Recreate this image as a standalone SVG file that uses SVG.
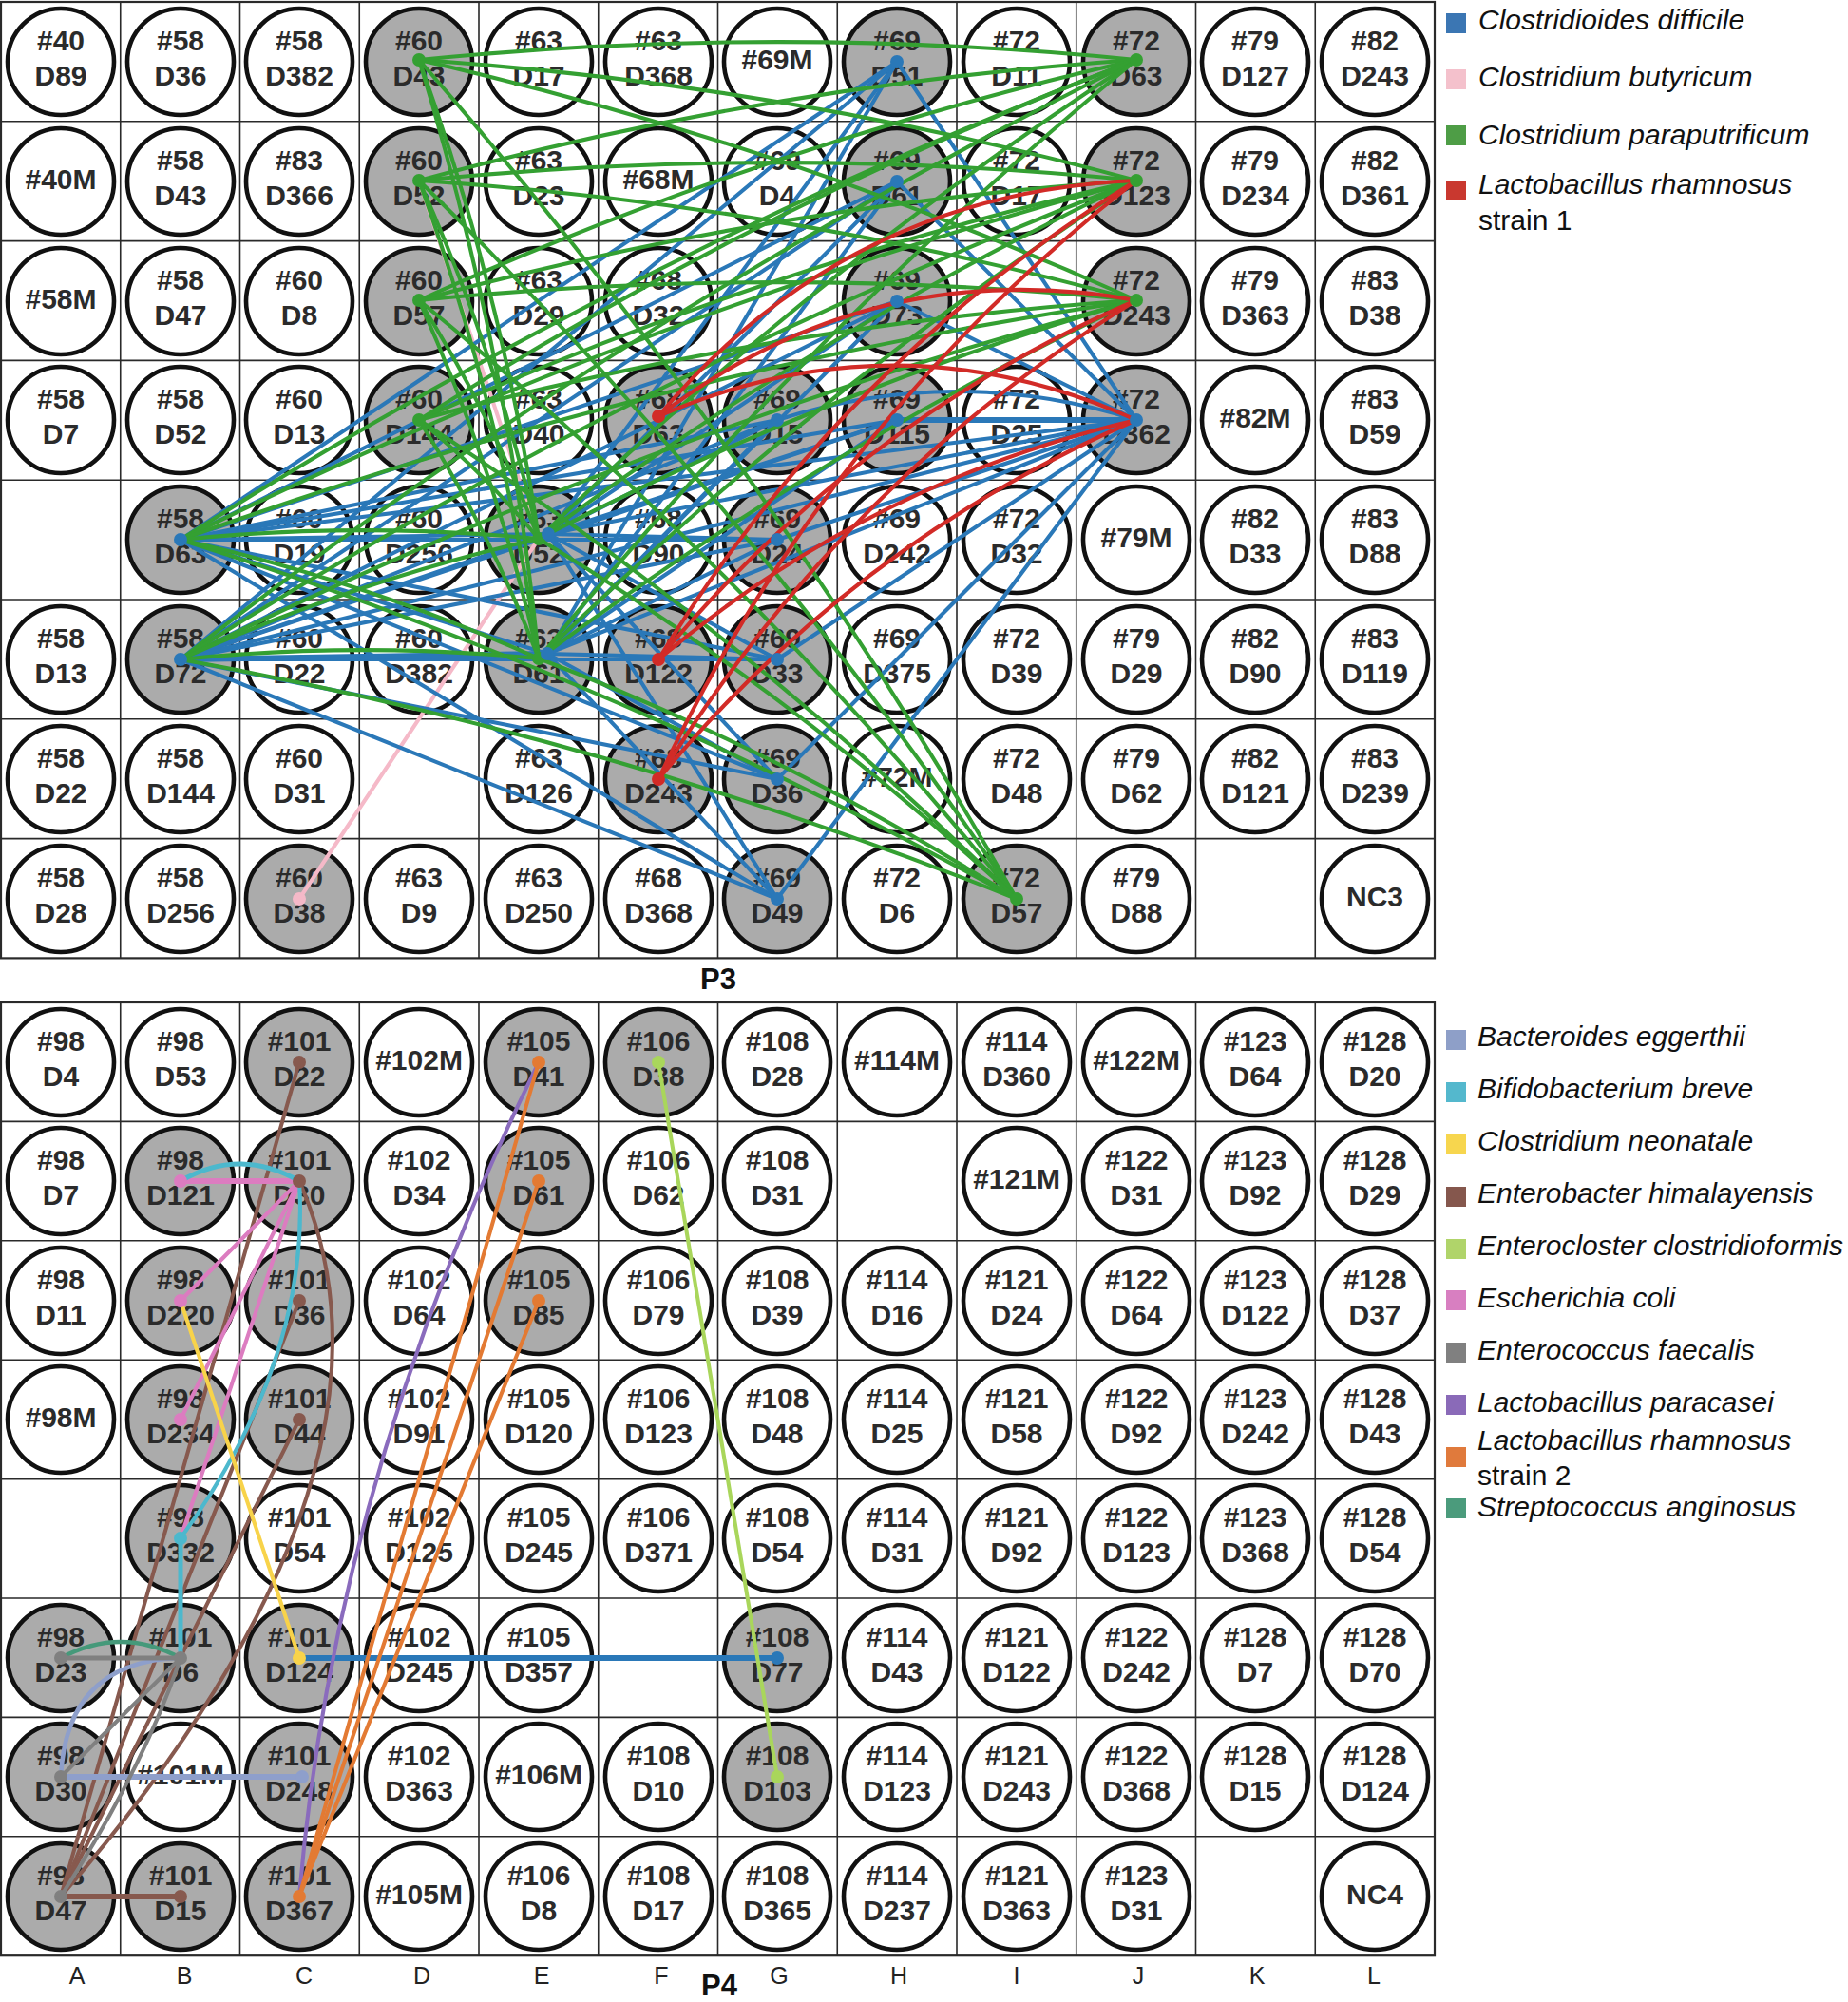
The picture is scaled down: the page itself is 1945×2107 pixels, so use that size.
<svg xmlns="http://www.w3.org/2000/svg" width="1945" height="2107" viewBox="0 0 1945 2107">
<defs>
<style>
.gl{stroke:#2a2a2a;stroke-width:1.6;fill:none}
.gb{stroke:#2a2a2a;stroke-width:2.2;fill:none}
.nd circle{stroke:#111;stroke-width:4.6;fill:#fff}
.nd.gr circle{fill:#ababab}
.nd text{font-family:"Liberation Sans",Arial,sans-serif;font-weight:bold;font-size:30px;fill:#2b2b2b;text-anchor:middle}
.e{fill:none;stroke-width:4.1;stroke-linecap:round}
.th{stroke-width:6.2}
.cd{stroke:#2a78b8}.cb{stroke:#f5b9c8}.cp{stroke:#34a032}.r1{stroke:#d22b27}
.be{stroke:#8e9fcb}.bb{stroke:#4cb8cd}.cn{stroke:#f8d34a}.eh{stroke:#87594e}.ec{stroke:#a9d65b}
.co{stroke:#dc7cc0}.ef{stroke:#808080}.lp{stroke:#8a6bbd}.r2{stroke:#e37a33}.sa{stroke:#45997a}
.d{stroke:none}
.fcd{fill:#2a78b8}.fcb{fill:#f5b9c8}.fcp{fill:#34a032}.fr1{fill:#d22b27}
.fbe{fill:#8e9fcb}.fbb{fill:#4cb8cd}.fcn{fill:#f8d34a}.feh{fill:#87594e}.fec{fill:#a9d65b}
.fco{fill:#dc7cc0}.fef{fill:#808080}.flp{fill:#8a6bbd}.fr2{fill:#e37a33}.fsa{fill:#45997a}
.lg text{font-family:"Liberation Sans",Arial,sans-serif;font-size:30px;fill:#111}
.lg .it{font-style:italic}
.lab{font-family:"Liberation Sans",Arial,sans-serif;font-size:25px;fill:#222;text-anchor:middle}
.pl{font-family:"Liberation Sans",Arial,sans-serif;font-size:31px;font-weight:bold;fill:#111;text-anchor:middle}
</style>
</defs>
<rect width="1945" height="2107" fill="#fff"/>

<g id="grid-p3">
<rect class="gb" x="1" y="2" width="1509" height="1006.4"/>
<path class="gl" d="M126.75 2V1008.4M252.5 2V1008.4M378.25 2V1008.4M504 2V1008.4M629.75 2V1008.4M755.5 2V1008.4M881.25 2V1008.4M1007 2V1008.4M1132.75 2V1008.4M1258.5 2V1008.4M1384.25 2V1008.4M1 127.8H1510M1 253.6H1510M1 379.4H1510M1 505.2H1510M1 631H1510M1 756.8H1510M1 882.6H1510"/>
</g>
<g id="grid-p4">
<rect class="gb" x="1" y="1055" width="1509" height="1003.2"/>
<path class="gl" d="M126.75 1055V2058.2M252.5 1055V2058.2M378.25 1055V2058.2M504 1055V2058.2M629.75 1055V2058.2M755.5 1055V2058.2M881.25 1055V2058.2M1007 1055V2058.2M1132.75 1055V2058.2M1258.5 1055V2058.2M1384.25 1055V2058.2M1 1180.4H1510M1 1305.8H1510M1 1431.2H1510M1 1556.6H1510M1 1682H1510M1 1807.4H1510M1 1932.8H1510"/>
</g>

<g id="nodes-p3">
<g id="P3-A1" class="nd" transform="translate(64,65)"><circle r="56"/><text y="-12">#40</text><text y="25">D89</text></g>
<g id="P3-B1" class="nd" transform="translate(190,65)"><circle r="56"/><text y="-12">#58</text><text y="25">D36</text></g>
<g id="P3-C1" class="nd" transform="translate(315,65)"><circle r="56"/><text y="-12">#58</text><text y="25">D382</text></g>
<g id="P3-D1" class="nd gr" transform="translate(441,65)"><circle r="56"/><text y="-12">#60</text><text y="25">D43</text></g>
<g id="P3-E1" class="nd" transform="translate(567,65)"><circle r="56"/><text y="-12">#63</text><text y="25">D17</text></g>
<g id="P3-F1" class="nd" transform="translate(693,65)"><circle r="56"/><text y="-12">#63</text><text y="25">D368</text></g>
<g id="P3-G1" class="nd" transform="translate(818,65)"><circle r="56"/><text y="8">#69M</text></g>
<g id="P3-H1" class="nd gr" transform="translate(944,65)"><circle r="56"/><text y="-12">#69</text><text y="25">D51</text></g>
<g id="P3-I1" class="nd" transform="translate(1070,65)"><circle r="56"/><text y="-12">#72</text><text y="25">D11</text></g>
<g id="P3-J1" class="nd gr" transform="translate(1196,65)"><circle r="56"/><text y="-12">#72</text><text y="25">D63</text></g>
<g id="P3-K1" class="nd" transform="translate(1321,65)"><circle r="56"/><text y="-12">#79</text><text y="25">D127</text></g>
<g id="P3-L1" class="nd" transform="translate(1447,65)"><circle r="56"/><text y="-12">#82</text><text y="25">D243</text></g>

<g id="P3-A2" class="nd" transform="translate(64,191)"><circle r="56"/><text y="8">#40M</text></g>
<g id="P3-B2" class="nd" transform="translate(190,191)"><circle r="56"/><text y="-12">#58</text><text y="25">D43</text></g>
<g id="P3-C2" class="nd" transform="translate(315,191)"><circle r="56"/><text y="-12">#83</text><text y="25">D366</text></g>
<g id="P3-D2" class="nd gr" transform="translate(441,191)"><circle r="56"/><text y="-12">#60</text><text y="25">D52</text></g>
<g id="P3-E2" class="nd" transform="translate(567,191)"><circle r="56"/><text y="-12">#63</text><text y="25">D23</text></g>
<g id="P3-F2" class="nd" transform="translate(693,191)"><circle r="56"/><text y="8">#68M</text></g>
<g id="P3-G2" class="nd" transform="translate(818,191)"><circle r="56"/><text y="-12">#69</text><text y="25">D4</text></g>
<g id="P3-H2" class="nd gr" transform="translate(944,191)"><circle r="56"/><text y="-12">#69</text><text y="25">D61</text></g>
<g id="P3-I2" class="nd" transform="translate(1070,191)"><circle r="56"/><text y="-12">#72</text><text y="25">D17</text></g>
<g id="P3-J2" class="nd gr" transform="translate(1196,191)"><circle r="56"/><text y="-12">#72</text><text y="25">D123</text></g>
<g id="P3-K2" class="nd" transform="translate(1321,191)"><circle r="56"/><text y="-12">#79</text><text y="25">D234</text></g>
<g id="P3-L2" class="nd" transform="translate(1447,191)"><circle r="56"/><text y="-12">#82</text><text y="25">D361</text></g>

<g id="P3-A3" class="nd" transform="translate(64,317)"><circle r="56"/><text y="8">#58M</text></g>
<g id="P3-B3" class="nd" transform="translate(190,317)"><circle r="56"/><text y="-12">#58</text><text y="25">D47</text></g>
<g id="P3-C3" class="nd" transform="translate(315,317)"><circle r="56"/><text y="-12">#60</text><text y="25">D8</text></g>
<g id="P3-D3" class="nd gr" transform="translate(441,317)"><circle r="56"/><text y="-12">#60</text><text y="25">D57</text></g>
<g id="P3-E3" class="nd" transform="translate(567,317)"><circle r="56"/><text y="-12">#63</text><text y="25">D29</text></g>
<g id="P3-F3" class="nd" transform="translate(693,317)"><circle r="56"/><text y="-12">#68</text><text y="25">D32</text></g>
<g id="P3-H3" class="nd gr" transform="translate(944,317)"><circle r="56"/><text y="-12">#69</text><text y="25">D73</text></g>
<g id="P3-J3" class="nd gr" transform="translate(1196,317)"><circle r="56"/><text y="-12">#72</text><text y="25">D243</text></g>
<g id="P3-K3" class="nd" transform="translate(1321,317)"><circle r="56"/><text y="-12">#79</text><text y="25">D363</text></g>
<g id="P3-L3" class="nd" transform="translate(1447,317)"><circle r="56"/><text y="-12">#83</text><text y="25">D38</text></g>

<g id="P3-A4" class="nd" transform="translate(64,442)"><circle r="56"/><text y="-12">#58</text><text y="25">D7</text></g>
<g id="P3-B4" class="nd" transform="translate(190,442)"><circle r="56"/><text y="-12">#58</text><text y="25">D52</text></g>
<g id="P3-C4" class="nd" transform="translate(315,442)"><circle r="56"/><text y="-12">#60</text><text y="25">D13</text></g>
<g id="P3-D4" class="nd gr" transform="translate(441,442)"><circle r="56"/><text y="-12">#60</text><text y="25">D144</text></g>
<g id="P3-E4" class="nd" transform="translate(567,442)"><circle r="56"/><text y="-12">#63</text><text y="25">D40</text></g>
<g id="P3-F4" class="nd gr" transform="translate(693,442)"><circle r="56"/><text y="-12">#68</text><text y="25">D63</text></g>
<g id="P3-G4" class="nd gr" transform="translate(818,442)"><circle r="56"/><text y="-12">#69</text><text y="25">D15</text></g>
<g id="P3-H4" class="nd gr" transform="translate(944,442)"><circle r="56"/><text y="-12">#69</text><text y="25">D115</text></g>
<g id="P3-I4" class="nd" transform="translate(1070,442)"><circle r="56"/><text y="-12">#72</text><text y="25">D25</text></g>
<g id="P3-J4" class="nd gr" transform="translate(1196,442)"><circle r="56"/><text y="-12">#72</text><text y="25">D362</text></g>
<g id="P3-K4" class="nd" transform="translate(1321,442)"><circle r="56"/><text y="8">#82M</text></g>
<g id="P3-L4" class="nd" transform="translate(1447,442)"><circle r="56"/><text y="-12">#83</text><text y="25">D59</text></g>

<g id="P3-B5" class="nd gr" transform="translate(190,568)"><circle r="56"/><text y="-12">#58</text><text y="25">D63</text></g>
<g id="P3-C5" class="nd" transform="translate(315,568)"><circle r="56"/><text y="-12">#60</text><text y="25">D19</text></g>
<g id="P3-D5" class="nd" transform="translate(441,568)"><circle r="56"/><text y="-12">#60</text><text y="25">D256</text></g>
<g id="P3-E5" class="nd gr" transform="translate(567,568)"><circle r="56"/><text y="-12">#63</text><text y="25">D52</text></g>
<g id="P3-F5" class="nd" transform="translate(693,568)"><circle r="56"/><text y="-12">#68</text><text y="25">D90</text></g>
<g id="P3-G5" class="nd gr" transform="translate(818,568)"><circle r="56"/><text y="-12">#69</text><text y="25">D24</text></g>
<g id="P3-H5" class="nd" transform="translate(944,568)"><circle r="56"/><text y="-12">#69</text><text y="25">D242</text></g>
<g id="P3-I5" class="nd" transform="translate(1070,568)"><circle r="56"/><text y="-12">#72</text><text y="25">D32</text></g>
<g id="P3-J5" class="nd" transform="translate(1196,568)"><circle r="56"/><text y="8">#79M</text></g>
<g id="P3-K5" class="nd" transform="translate(1321,568)"><circle r="56"/><text y="-12">#82</text><text y="25">D33</text></g>
<g id="P3-L5" class="nd" transform="translate(1447,568)"><circle r="56"/><text y="-12">#83</text><text y="25">D88</text></g>

<g id="P3-A6" class="nd" transform="translate(64,694)"><circle r="56"/><text y="-12">#58</text><text y="25">D13</text></g>
<g id="P3-B6" class="nd gr" transform="translate(190,694)"><circle r="56"/><text y="-12">#58</text><text y="25">D72</text></g>
<g id="P3-C6" class="nd" transform="translate(315,694)"><circle r="56"/><text y="-12">#60</text><text y="25">D22</text></g>
<g id="P3-D6" class="nd" transform="translate(441,694)"><circle r="56"/><text y="-12">#60</text><text y="25">D382</text></g>
<g id="P3-E6" class="nd gr" transform="translate(567,694)"><circle r="56"/><text y="-12">#63</text><text y="25">D61</text></g>
<g id="P3-F6" class="nd gr" transform="translate(693,694)"><circle r="56"/><text y="-12">#68</text><text y="25">D122</text></g>
<g id="P3-G6" class="nd gr" transform="translate(818,694)"><circle r="56"/><text y="-12">#69</text><text y="25">D33</text></g>
<g id="P3-H6" class="nd" transform="translate(944,694)"><circle r="56"/><text y="-12">#69</text><text y="25">D375</text></g>
<g id="P3-I6" class="nd" transform="translate(1070,694)"><circle r="56"/><text y="-12">#72</text><text y="25">D39</text></g>
<g id="P3-J6" class="nd" transform="translate(1196,694)"><circle r="56"/><text y="-12">#79</text><text y="25">D29</text></g>
<g id="P3-K6" class="nd" transform="translate(1321,694)"><circle r="56"/><text y="-12">#82</text><text y="25">D90</text></g>
<g id="P3-L6" class="nd" transform="translate(1447,694)"><circle r="56"/><text y="-12">#83</text><text y="25">D119</text></g>

<g id="P3-A7" class="nd" transform="translate(64,820)"><circle r="56"/><text y="-12">#58</text><text y="25">D22</text></g>
<g id="P3-B7" class="nd" transform="translate(190,820)"><circle r="56"/><text y="-12">#58</text><text y="25">D144</text></g>
<g id="P3-C7" class="nd" transform="translate(315,820)"><circle r="56"/><text y="-12">#60</text><text y="25">D31</text></g>
<g id="P3-E7" class="nd" transform="translate(567,820)"><circle r="56"/><text y="-12">#63</text><text y="25">D126</text></g>
<g id="P3-F7" class="nd gr" transform="translate(693,820)"><circle r="56"/><text y="-12">#68</text><text y="25">D243</text></g>
<g id="P3-G7" class="nd gr" transform="translate(818,820)"><circle r="56"/><text y="-12">#69</text><text y="25">D36</text></g>
<g id="P3-H7" class="nd" transform="translate(944,820)"><circle r="56"/><text y="8">#72M</text></g>
<g id="P3-I7" class="nd" transform="translate(1070,820)"><circle r="56"/><text y="-12">#72</text><text y="25">D48</text></g>
<g id="P3-J7" class="nd" transform="translate(1196,820)"><circle r="56"/><text y="-12">#79</text><text y="25">D62</text></g>
<g id="P3-K7" class="nd" transform="translate(1321,820)"><circle r="56"/><text y="-12">#82</text><text y="25">D121</text></g>
<g id="P3-L7" class="nd" transform="translate(1447,820)"><circle r="56"/><text y="-12">#83</text><text y="25">D239</text></g>

<g id="P3-A8" class="nd" transform="translate(64,946)"><circle r="56"/><text y="-12">#58</text><text y="25">D28</text></g>
<g id="P3-B8" class="nd" transform="translate(190,946)"><circle r="56"/><text y="-12">#58</text><text y="25">D256</text></g>
<g id="P3-C8" class="nd gr" transform="translate(315,946)"><circle r="56"/><text y="-12">#60</text><text y="25">D38</text></g>
<g id="P3-D8" class="nd" transform="translate(441,946)"><circle r="56"/><text y="-12">#63</text><text y="25">D9</text></g>
<g id="P3-E8" class="nd" transform="translate(567,946)"><circle r="56"/><text y="-12">#63</text><text y="25">D250</text></g>
<g id="P3-F8" class="nd" transform="translate(693,946)"><circle r="56"/><text y="-12">#68</text><text y="25">D368</text></g>
<g id="P3-G8" class="nd gr" transform="translate(818,946)"><circle r="56"/><text y="-12">#69</text><text y="25">D49</text></g>
<g id="P3-H8" class="nd" transform="translate(944,946)"><circle r="56"/><text y="-12">#72</text><text y="25">D6</text></g>
<g id="P3-I8" class="nd gr" transform="translate(1070,946)"><circle r="56"/><text y="-12">#72</text><text y="25">D57</text></g>
<g id="P3-J8" class="nd" transform="translate(1196,946)"><circle r="56"/><text y="-12">#79</text><text y="25">D88</text></g>
<g id="P3-L8" class="nd" transform="translate(1447,946)"><circle r="56"/><text y="8">NC3</text></g>
</g>

<g id="nodes-p4">
<g id="P4-A1" class="nd" transform="translate(64,1118)"><circle r="56"/><text y="-12">#98</text><text y="25">D4</text></g>
<g id="P4-B1" class="nd" transform="translate(190,1118)"><circle r="56"/><text y="-12">#98</text><text y="25">D53</text></g>
<g id="P4-C1" class="nd gr" transform="translate(315,1118)"><circle r="56"/><text y="-12">#101</text><text y="25">D22</text></g>
<g id="P4-D1" class="nd" transform="translate(441,1118)"><circle r="56"/><text y="8">#102M</text></g>
<g id="P4-E1" class="nd gr" transform="translate(567,1118)"><circle r="56"/><text y="-12">#105</text><text y="25">D41</text></g>
<g id="P4-F1" class="nd gr" transform="translate(693,1118)"><circle r="56"/><text y="-12">#106</text><text y="25">D38</text></g>
<g id="P4-G1" class="nd" transform="translate(818,1118)"><circle r="56"/><text y="-12">#108</text><text y="25">D28</text></g>
<g id="P4-H1" class="nd" transform="translate(944,1118)"><circle r="56"/><text y="8">#114M</text></g>
<g id="P4-I1" class="nd" transform="translate(1070,1118)"><circle r="56"/><text y="-12">#114</text><text y="25">D360</text></g>
<g id="P4-J1" class="nd" transform="translate(1196,1118)"><circle r="56"/><text y="8">#122M</text></g>
<g id="P4-K1" class="nd" transform="translate(1321,1118)"><circle r="56"/><text y="-12">#123</text><text y="25">D64</text></g>
<g id="P4-L1" class="nd" transform="translate(1447,1118)"><circle r="56"/><text y="-12">#128</text><text y="25">D20</text></g>

<g id="P4-A2" class="nd" transform="translate(64,1243)"><circle r="56"/><text y="-12">#98</text><text y="25">D7</text></g>
<g id="P4-B2" class="nd gr" transform="translate(190,1243)"><circle r="56"/><text y="-12">#98</text><text y="25">D121</text></g>
<g id="P4-C2" class="nd gr" transform="translate(315,1243)"><circle r="56"/><text y="-12">#101</text><text y="25">D30</text></g>
<g id="P4-D2" class="nd" transform="translate(441,1243)"><circle r="56"/><text y="-12">#102</text><text y="25">D34</text></g>
<g id="P4-E2" class="nd gr" transform="translate(567,1243)"><circle r="56"/><text y="-12">#105</text><text y="25">D61</text></g>
<g id="P4-F2" class="nd" transform="translate(693,1243)"><circle r="56"/><text y="-12">#106</text><text y="25">D62</text></g>
<g id="P4-G2" class="nd" transform="translate(818,1243)"><circle r="56"/><text y="-12">#108</text><text y="25">D31</text></g>
<g id="P4-I2" class="nd" transform="translate(1070,1243)"><circle r="56"/><text y="8">#121M</text></g>
<g id="P4-J2" class="nd" transform="translate(1196,1243)"><circle r="56"/><text y="-12">#122</text><text y="25">D31</text></g>
<g id="P4-K2" class="nd" transform="translate(1321,1243)"><circle r="56"/><text y="-12">#123</text><text y="25">D92</text></g>
<g id="P4-L2" class="nd" transform="translate(1447,1243)"><circle r="56"/><text y="-12">#128</text><text y="25">D29</text></g>

<g id="P4-A3" class="nd" transform="translate(64,1369)"><circle r="56"/><text y="-12">#98</text><text y="25">D11</text></g>
<g id="P4-B3" class="nd gr" transform="translate(190,1369)"><circle r="56"/><text y="-12">#98</text><text y="25">D220</text></g>
<g id="P4-C3" class="nd gr" transform="translate(315,1369)"><circle r="56"/><text y="-12">#101</text><text y="25">D36</text></g>
<g id="P4-D3" class="nd" transform="translate(441,1369)"><circle r="56"/><text y="-12">#102</text><text y="25">D64</text></g>
<g id="P4-E3" class="nd gr" transform="translate(567,1369)"><circle r="56"/><text y="-12">#105</text><text y="25">D85</text></g>
<g id="P4-F3" class="nd" transform="translate(693,1369)"><circle r="56"/><text y="-12">#106</text><text y="25">D79</text></g>
<g id="P4-G3" class="nd" transform="translate(818,1369)"><circle r="56"/><text y="-12">#108</text><text y="25">D39</text></g>
<g id="P4-H3" class="nd" transform="translate(944,1369)"><circle r="56"/><text y="-12">#114</text><text y="25">D16</text></g>
<g id="P4-I3" class="nd" transform="translate(1070,1369)"><circle r="56"/><text y="-12">#121</text><text y="25">D24</text></g>
<g id="P4-J3" class="nd" transform="translate(1196,1369)"><circle r="56"/><text y="-12">#122</text><text y="25">D64</text></g>
<g id="P4-K3" class="nd" transform="translate(1321,1369)"><circle r="56"/><text y="-12">#123</text><text y="25">D122</text></g>
<g id="P4-L3" class="nd" transform="translate(1447,1369)"><circle r="56"/><text y="-12">#128</text><text y="25">D37</text></g>

<g id="P4-A4" class="nd" transform="translate(64,1494)"><circle r="56"/><text y="8">#98M</text></g>
<g id="P4-B4" class="nd gr" transform="translate(190,1494)"><circle r="56"/><text y="-12">#98</text><text y="25">D234</text></g>
<g id="P4-C4" class="nd gr" transform="translate(315,1494)"><circle r="56"/><text y="-12">#101</text><text y="25">D44</text></g>
<g id="P4-D4" class="nd" transform="translate(441,1494)"><circle r="56"/><text y="-12">#102</text><text y="25">D91</text></g>
<g id="P4-E4" class="nd" transform="translate(567,1494)"><circle r="56"/><text y="-12">#105</text><text y="25">D120</text></g>
<g id="P4-F4" class="nd" transform="translate(693,1494)"><circle r="56"/><text y="-12">#106</text><text y="25">D123</text></g>
<g id="P4-G4" class="nd" transform="translate(818,1494)"><circle r="56"/><text y="-12">#108</text><text y="25">D48</text></g>
<g id="P4-H4" class="nd" transform="translate(944,1494)"><circle r="56"/><text y="-12">#114</text><text y="25">D25</text></g>
<g id="P4-I4" class="nd" transform="translate(1070,1494)"><circle r="56"/><text y="-12">#121</text><text y="25">D58</text></g>
<g id="P4-J4" class="nd" transform="translate(1196,1494)"><circle r="56"/><text y="-12">#122</text><text y="25">D92</text></g>
<g id="P4-K4" class="nd" transform="translate(1321,1494)"><circle r="56"/><text y="-12">#123</text><text y="25">D242</text></g>
<g id="P4-L4" class="nd" transform="translate(1447,1494)"><circle r="56"/><text y="-12">#128</text><text y="25">D43</text></g>

<g id="P4-B5" class="nd gr" transform="translate(190,1619)"><circle r="56"/><text y="-12">#98</text><text y="25">D332</text></g>
<g id="P4-C5" class="nd" transform="translate(315,1619)"><circle r="56"/><text y="-12">#101</text><text y="25">D54</text></g>
<g id="P4-D5" class="nd" transform="translate(441,1619)"><circle r="56"/><text y="-12">#102</text><text y="25">D125</text></g>
<g id="P4-E5" class="nd" transform="translate(567,1619)"><circle r="56"/><text y="-12">#105</text><text y="25">D245</text></g>
<g id="P4-F5" class="nd" transform="translate(693,1619)"><circle r="56"/><text y="-12">#106</text><text y="25">D371</text></g>
<g id="P4-G5" class="nd" transform="translate(818,1619)"><circle r="56"/><text y="-12">#108</text><text y="25">D54</text></g>
<g id="P4-H5" class="nd" transform="translate(944,1619)"><circle r="56"/><text y="-12">#114</text><text y="25">D31</text></g>
<g id="P4-I5" class="nd" transform="translate(1070,1619)"><circle r="56"/><text y="-12">#121</text><text y="25">D92</text></g>
<g id="P4-J5" class="nd" transform="translate(1196,1619)"><circle r="56"/><text y="-12">#122</text><text y="25">D123</text></g>
<g id="P4-K5" class="nd" transform="translate(1321,1619)"><circle r="56"/><text y="-12">#123</text><text y="25">D368</text></g>
<g id="P4-L5" class="nd" transform="translate(1447,1619)"><circle r="56"/><text y="-12">#128</text><text y="25">D54</text></g>

<g id="P4-A6" class="nd gr" transform="translate(64,1745)"><circle r="56"/><text y="-12">#98</text><text y="25">D23</text></g>
<g id="P4-B6" class="nd gr" transform="translate(190,1745)"><circle r="56"/><text y="-12">#101</text><text y="25">D6</text></g>
<g id="P4-C6" class="nd gr" transform="translate(315,1745)"><circle r="56"/><text y="-12">#101</text><text y="25">D124</text></g>
<g id="P4-D6" class="nd" transform="translate(441,1745)"><circle r="56"/><text y="-12">#102</text><text y="25">D245</text></g>
<g id="P4-E6" class="nd" transform="translate(567,1745)"><circle r="56"/><text y="-12">#105</text><text y="25">D357</text></g>
<g id="P4-G6" class="nd gr" transform="translate(818,1745)"><circle r="56"/><text y="-12">#108</text><text y="25">D77</text></g>
<g id="P4-H6" class="nd" transform="translate(944,1745)"><circle r="56"/><text y="-12">#114</text><text y="25">D43</text></g>
<g id="P4-I6" class="nd" transform="translate(1070,1745)"><circle r="56"/><text y="-12">#121</text><text y="25">D122</text></g>
<g id="P4-J6" class="nd" transform="translate(1196,1745)"><circle r="56"/><text y="-12">#122</text><text y="25">D242</text></g>
<g id="P4-K6" class="nd" transform="translate(1321,1745)"><circle r="56"/><text y="-12">#128</text><text y="25">D7</text></g>
<g id="P4-L6" class="nd" transform="translate(1447,1745)"><circle r="56"/><text y="-12">#128</text><text y="25">D70</text></g>

<g id="P4-A7" class="nd gr" transform="translate(64,1870)"><circle r="56"/><text y="-12">#98</text><text y="25">D30</text></g>
<g id="P4-B7" class="nd" transform="translate(190,1870)"><circle r="56"/><text y="8">#101M</text></g>
<g id="P4-C7" class="nd gr" transform="translate(315,1870)"><circle r="56"/><text y="-12">#101</text><text y="25">D248</text></g>
<g id="P4-D7" class="nd" transform="translate(441,1870)"><circle r="56"/><text y="-12">#102</text><text y="25">D363</text></g>
<g id="P4-E7" class="nd" transform="translate(567,1870)"><circle r="56"/><text y="8">#106M</text></g>
<g id="P4-F7" class="nd" transform="translate(693,1870)"><circle r="56"/><text y="-12">#108</text><text y="25">D10</text></g>
<g id="P4-G7" class="nd gr" transform="translate(818,1870)"><circle r="56"/><text y="-12">#108</text><text y="25">D103</text></g>
<g id="P4-H7" class="nd" transform="translate(944,1870)"><circle r="56"/><text y="-12">#114</text><text y="25">D123</text></g>
<g id="P4-I7" class="nd" transform="translate(1070,1870)"><circle r="56"/><text y="-12">#121</text><text y="25">D243</text></g>
<g id="P4-J7" class="nd" transform="translate(1196,1870)"><circle r="56"/><text y="-12">#122</text><text y="25">D368</text></g>
<g id="P4-K7" class="nd" transform="translate(1321,1870)"><circle r="56"/><text y="-12">#128</text><text y="25">D15</text></g>
<g id="P4-L7" class="nd" transform="translate(1447,1870)"><circle r="56"/><text y="-12">#128</text><text y="25">D124</text></g>

<g id="P4-A8" class="nd gr" transform="translate(64,1996)"><circle r="56"/><text y="-12">#98</text><text y="25">D47</text></g>
<g id="P4-B8" class="nd gr" transform="translate(190,1996)"><circle r="56"/><text y="-12">#101</text><text y="25">D15</text></g>
<g id="P4-C8" class="nd gr" transform="translate(315,1996)"><circle r="56"/><text y="-12">#101</text><text y="25">D367</text></g>
<g id="P4-D8" class="nd" transform="translate(441,1996)"><circle r="56"/><text y="8">#105M</text></g>
<g id="P4-E8" class="nd" transform="translate(567,1996)"><circle r="56"/><text y="-12">#106</text><text y="25">D8</text></g>
<g id="P4-F8" class="nd" transform="translate(693,1996)"><circle r="56"/><text y="-12">#108</text><text y="25">D17</text></g>
<g id="P4-G8" class="nd" transform="translate(818,1996)"><circle r="56"/><text y="-12">#108</text><text y="25">D365</text></g>
<g id="P4-H8" class="nd" transform="translate(944,1996)"><circle r="56"/><text y="-12">#114</text><text y="25">D237</text></g>
<g id="P4-I8" class="nd" transform="translate(1070,1996)"><circle r="56"/><text y="-12">#121</text><text y="25">D363</text></g>
<g id="P4-J8" class="nd" transform="translate(1196,1996)"><circle r="56"/><text y="-12">#123</text><text y="25">D31</text></g>
<g id="P4-L8" class="nd" transform="translate(1447,1996)"><circle r="56"/><text y="8">NC4</text></g>
</g>

<g id="connectors">
<g id="c-butyricum">
<line class="e cb" x1="441" y1="190" x2="567" y2="567"/>
<line class="e cb" x1="315" y1="946" x2="567" y2="567"/>
<line class="e cb" x1="190" y1="694" x2="567" y2="567"/>
</g>
<g id="c-difficile-p3">
<line class="e cd" x1="190" y1="568" x2="944" y2="65"/>
<line class="e cd" x1="190" y1="568" x2="944" y2="191"/>
<line class="e cd" x1="190" y1="568" x2="944" y2="317"/>
<line class="e cd" x1="190" y1="568" x2="818" y2="442"/>
<line class="e cd" x1="190" y1="568" x2="944" y2="442"/>
<line class="e cd" x1="190" y1="568" x2="818" y2="568"/>
<line class="e cd" x1="190" y1="568" x2="818" y2="694"/>
<line class="e cd" x1="190" y1="568" x2="818" y2="820"/>
<line class="e cd" x1="190" y1="568" x2="818" y2="946"/>
<line class="e cd" x1="190" y1="694" x2="944" y2="65"/>
<line class="e cd" x1="190" y1="694" x2="944" y2="191"/>
<line class="e cd" x1="190" y1="694" x2="944" y2="317"/>
<line class="e cd" x1="190" y1="694" x2="818" y2="442"/>
<line class="e cd" x1="190" y1="694" x2="944" y2="442"/>
<line class="e cd" x1="190" y1="694" x2="818" y2="568"/>
<line class="e cd" x1="190" y1="694" x2="818" y2="694"/>
<line class="e cd" x1="190" y1="694" x2="818" y2="820"/>
<line class="e cd" x1="190" y1="694" x2="818" y2="946"/>
<line class="e cd" x1="577" y1="562" x2="944" y2="65"/>
<line class="e cd" x1="577" y1="562" x2="944" y2="191"/>
<line class="e cd" x1="577" y1="562" x2="944" y2="317"/>
<line class="e cd" x1="577" y1="562" x2="818" y2="442"/>
<line class="e cd" x1="577" y1="562" x2="944" y2="442"/>
<line class="e cd" x1="577" y1="562" x2="818" y2="568"/>
<line class="e cd" x1="577" y1="562" x2="818" y2="694"/>
<line class="e cd" x1="577" y1="562" x2="818" y2="820"/>
<line class="e cd" x1="577" y1="562" x2="818" y2="946"/>
<line class="e cd" x1="576" y1="688" x2="944" y2="65"/>
<line class="e cd" x1="576" y1="688" x2="944" y2="191"/>
<line class="e cd" x1="576" y1="688" x2="944" y2="317"/>
<line class="e cd" x1="576" y1="688" x2="818" y2="442"/>
<line class="e cd" x1="576" y1="688" x2="944" y2="442"/>
<line class="e cd" x1="576" y1="688" x2="818" y2="568"/>
<line class="e cd" x1="576" y1="688" x2="818" y2="694"/>
<line class="e cd" x1="576" y1="688" x2="818" y2="820"/>
<line class="e cd" x1="576" y1="688" x2="818" y2="946"/>
<line class="e cd" x1="1196" y1="442" x2="944" y2="65"/>
<line class="e cd" x1="1196" y1="442" x2="944" y2="191"/>
<line class="e cd" x1="1196" y1="442" x2="944" y2="317"/>
<path class="e cd" d="M818 442Q1007 382 1196 442"/>
<line class="e cd th" x1="1196" y1="442" x2="944" y2="442"/>
<line class="e cd" x1="1196" y1="442" x2="818" y2="568"/>
<line class="e cd" x1="1196" y1="442" x2="818" y2="694"/>
<line class="e cd" x1="1196" y1="442" x2="818" y2="820"/>
<line class="e cd" x1="1196" y1="442" x2="818" y2="946"/>
<line class="e cd" x1="190" y1="568" x2="577" y2="562"/>
<line class="e cd" x1="190" y1="568" x2="576" y2="688"/>
<line class="e cd" x1="190" y1="694" x2="577" y2="562"/>
<line class="e cd th" x1="190" y1="694" x2="576" y2="688"/>
<line class="e cd" x1="190" y1="568" x2="1196" y2="442"/>
<line class="e cd" x1="190" y1="694" x2="1196" y2="442"/>
<line class="e cd" x1="577" y1="562" x2="1196" y2="442"/>
<line class="e cd" x1="576" y1="688" x2="1196" y2="442"/>
</g>
<g id="c-paraputrificum">
<path class="e cp" d="M190 568Q667.8 265.2 1196 63"/>
<path class="e cp" d="M190 568Q674.1 328.7 1196 190"/>
<path class="e cp" d="M190 568Q680.4 391.7 1196 316"/>
<path class="e cp" d="M190 568Q648.9 713 1070 946"/>
<path class="e cp" d="M190 694Q661.5 328.2 1196 63"/>
<path class="e cp" d="M190 694Q667.8 391.7 1196 190"/>
<path class="e cp" d="M190 694Q674.1 454.7 1196 316"/>
<path class="e cp" d="M190 694Q642.6 776 1070 946"/>
<path class="e cp" d="M441 63Q818.5 25.3 1196 63"/>
<path class="e cp" d="M441 63Q824.9 88.8 1196 190"/>
<path class="e cp" d="M441 63Q831.2 151.8 1196 316"/>
<path class="e cp" d="M441 63Q799.7 473.1 1070 946"/>
<path class="e cp" d="M441 190Q812.2 88.8 1196 63"/>
<path class="e cp" d="M441 190Q818.5 152.3 1196 190"/>
<path class="e cp" d="M441 190Q824.8 215.3 1196 316"/>
<path class="e cp" d="M441 190Q793.3 536.6 1070 946"/>
<path class="e cp" d="M441 316Q805.9 151.8 1196 63"/>
<path class="e cp" d="M441 316Q812.2 215.3 1196 190"/>
<path class="e cp" d="M441 316Q818.5 278.3 1196 316"/>
<path class="e cp" d="M441 316Q787 599.6 1070 946"/>
<path class="e cp" d="M441 442Q799.6 214.8 1196 63"/>
<path class="e cp" d="M441 442Q805.9 278.3 1196 190"/>
<path class="e cp" d="M441 442Q812.2 341.3 1196 316"/>
<path class="e cp" d="M441 442Q780.7 662.6 1070 946"/>
<path class="e cp" d="M567 567Q856.3 283.6 1196 63"/>
<path class="e cp" d="M567 567Q862.7 347 1196 190"/>
<path class="e cp" d="M567 567Q868.9 410 1196 316"/>
<path class="e cp" d="M567 567Q837.5 731.4 1070 946"/>
<path class="e cp" d="M567 693Q850 346.6 1196 63"/>
<path class="e cp" d="M567 693Q856.4 410 1196 190"/>
<path class="e cp" d="M567 693Q862.7 473 1196 316"/>
<path class="e cp" d="M567 693Q831.2 794.4 1070 946"/>
<path class="e cp" d="M190 568Q378.5 548.7 567 567"/>
<path class="e cp" d="M190 568Q384.8 611.7 567 693"/>
<path class="e cp" d="M190 694Q372.2 611.7 567 567"/>
<path class="e cp" d="M190 694Q378.5 674.7 567 693"/>
<path class="e cp" d="M441 63Q529.2 308.7 567 567"/>
<path class="e cp" d="M441 63Q535.5 371.7 567 693"/>
<path class="e cp" d="M441 190Q522.9 372.2 567 567"/>
<path class="e cp" d="M441 190Q529.2 435.2 567 693"/>
<path class="e cp" d="M441 316Q516.6 435.2 567 567"/>
<path class="e cp" d="M441 316Q522.9 498.2 567 693"/>
<path class="e cp" d="M441 442Q510.3 498.2 567 567"/>
<path class="e cp" d="M441 442Q516.6 561.2 567 693"/>
</g>
<g id="l-rhamnosus-1">
<path class="e r1" d="M693 438Q889.9 203.3 1196 190"/>
<path class="e r1" d="M693 438Q917.7 266.3 1196 316"/>
<path class="e r1" d="M693 438Q945.4 329.3 1196 442"/>
<path class="e r1" d="M693 694Q884 381.6 1196 190"/>
<path class="e r1" d="M693 694Q899.1 444.6 1196 316"/>
<path class="e r1" d="M693 694Q914.3 507.6 1196 442"/>
<path class="e r1" d="M693 820Q868.9 444.6 1196 190"/>
<path class="e r1" d="M693 820Q884 507.6 1196 316"/>
<path class="e r1" d="M693 820Q899.1 570.6 1196 442"/>
</g>
<g id="p4-edges">
<line class="e eh" x1="315" y1="1118" x2="64" y2="1996"/>
<line class="e eh" x1="315" y1="1369" x2="64" y2="1996"/>
<line class="e eh" x1="315" y1="1494" x2="64" y2="1996"/>
<path class="e eh" d="M315 1243Q450 1550 64 1996"/>
<line class="e eh th" x1="64" y1="1996" x2="190" y2="1996"/>
<line class="e co th" x1="190" y1="1243" x2="315" y2="1243"/>
<line class="e co" x1="315" y1="1243" x2="190" y2="1369"/>
<line class="e co" x1="315" y1="1243" x2="190" y2="1494"/>
<line class="e co" x1="315" y1="1243" x2="190" y2="1619"/>
<path class="e bb" style="stroke-width:5" d="M190 1243Q252 1207 315 1243"/>
<path class="e bb" d="M315 1243Q327 1430 190 1619"/>
<line class="e bb" style="stroke-width:5" x1="190" y1="1619" x2="190" y2="1745"/>
<line class="e cn" x1="190" y1="1369" x2="315" y2="1745"/>
<line class="e cd th" x1="315" y1="1745" x2="818" y2="1745"/>
<line class="e ec" x1="693" y1="1118" x2="818" y2="1870"/>
<line class="e be th" x1="64" y1="1870" x2="318" y2="1870"/>
<path class="e be" style="stroke-width:4.6" d="M64 1870Q70 1748 190 1745"/>
<path class="e sa" style="stroke-width:4.6" d="M64 1745Q127 1711 190 1745"/>
<line class="e ef" style="stroke-width:5" x1="64" y1="1745" x2="190" y2="1745"/>
<line class="e ef" x1="190" y1="1745" x2="64" y2="1870"/>
<path class="e ef" d="M190 1745Q151 1861 64 1996"/>
<path class="e lp" d="M567 1118Q352 1555 315 1996"/>
<line class="e r2" x1="567" y1="1118" x2="315" y2="1996"/>
<line class="e r2" x1="567" y1="1243" x2="315" y2="1996"/>
<line class="e r2" x1="567" y1="1369" x2="315" y2="1996"/>
</g>
</g>

<g id="endpoints">
<circle class="d fcb" cx="315" cy="946" r="7"/>
<circle class="d fr1" cx="693" cy="438" r="7"/>
<circle class="d fr1" cx="693" cy="694" r="7"/>
<circle class="d fr1" cx="693" cy="820" r="7"/>
<circle class="d fcp" cx="441" cy="63" r="7"/>
<circle class="d fcp" cx="441" cy="190" r="7"/>
<circle class="d fcp" cx="441" cy="316" r="7"/>
<circle class="d fcp" cx="441" cy="442" r="7"/>
<circle class="d fcp" cx="1196" cy="63" r="7"/>
<circle class="d fcp" cx="1196" cy="190" r="7"/>
<circle class="d fcp" cx="1196" cy="316" r="7"/>
<circle class="d fcp" cx="1070" cy="946" r="7"/>
<circle class="d fcp" cx="567" cy="567" r="7"/>
<circle class="d fcp" cx="567" cy="693" r="7"/>
<circle class="d fcd" cx="577" cy="562" r="7"/>
<circle class="d fcd" cx="576" cy="688" r="7"/>
<circle class="d fcd" cx="190" cy="568" r="7"/>
<circle class="d fcd" cx="190" cy="694" r="7"/>
<circle class="d fcd" cx="1196" cy="442" r="7"/>
<circle class="d fcd" cx="944" cy="65" r="7"/>
<circle class="d fcd" cx="944" cy="191" r="7"/>
<circle class="d fcd" cx="944" cy="317" r="7"/>
<circle class="d fcd" cx="818" cy="442" r="7"/>
<circle class="d fcd" cx="944" cy="442" r="7"/>
<circle class="d fcd" cx="818" cy="568" r="7"/>
<circle class="d fcd" cx="818" cy="694" r="7"/>
<circle class="d fcd" cx="818" cy="820" r="7"/>
<circle class="d fcd" cx="818" cy="946" r="7"/>
<circle class="d feh" cx="315" cy="1118" r="7"/>
<circle class="d fr2" cx="567" cy="1118" r="7"/>
<circle class="d fec" cx="693" cy="1118" r="7"/>
<circle class="d fco" cx="190" cy="1243" r="7"/>
<circle class="d feh" cx="315" cy="1243" r="7"/>
<circle class="d fr2" cx="567" cy="1243" r="7"/>
<circle class="d fco" cx="190" cy="1369" r="7"/>
<circle class="d feh" cx="315" cy="1369" r="7"/>
<circle class="d fr2" cx="567" cy="1369" r="7"/>
<circle class="d fco" cx="190" cy="1494" r="7"/>
<circle class="d feh" cx="315" cy="1494" r="7"/>
<circle class="d fbb" cx="190" cy="1619" r="7"/>
<circle class="d fef" cx="64" cy="1745" r="7"/>
<circle class="d fef" cx="190" cy="1745" r="7"/>
<circle class="d fcn" cx="315" cy="1745" r="7"/>
<circle class="d fcd" cx="818" cy="1745" r="7"/>
<circle class="d fef" cx="64" cy="1870" r="7"/>
<circle class="d fbe" cx="318" cy="1870" r="7"/>
<circle class="d fec" cx="818" cy="1870" r="7"/>
<circle class="d fef" cx="64" cy="1996" r="7"/>
<circle class="d feh" cx="190" cy="1996" r="7"/>
<circle class="d fr2" cx="315" cy="1996" r="7"/>
</g>

<g id="plate-labels">
<text class="pl" x="756" y="1041">P3</text>
<text class="pl" x="757" y="2100">P4</text>
<text class="lab" x="81" y="2088">A</text>
<text class="lab" x="194" y="2088">B</text>
<text class="lab" x="320" y="2088">C</text>
<text class="lab" x="444" y="2088">D</text>
<text class="lab" x="570" y="2088">E</text>
<text class="lab" x="696" y="2088">F</text>
<text class="lab" x="820" y="2088">G</text>
<text class="lab" x="946" y="2088">H</text>
<text class="lab" x="1070" y="2088">I</text>
<text class="lab" x="1198" y="2088">J</text>
<text class="lab" x="1323" y="2088">K</text>
<text class="lab" x="1446" y="2088">L</text>
</g>

<g id="legend-p3" class="lg">
<rect x="1522" y="14" width="21" height="21" fill="#3b76b3"/>
<text class="it" x="1556" y="31">Clostridioides difficile</text>
<rect x="1522" y="73" width="21" height="21" fill="#f4c1cc"/>
<text class="it" x="1556" y="91">Clostridium butyricum</text>
<rect x="1522" y="132" width="21" height="21" fill="#4e9d46"/>
<text class="it" x="1556" y="152">Clostridium paraputrificum</text>
<rect x="1522" y="190" width="21" height="21" fill="#c9382f"/>
<text class="it" x="1556" y="204">Lactobacillus rhamnosus</text>
<text x="1556" y="242">strain 1</text>
</g>
<g id="legend-p4" class="lg">
<rect x="1522" y="1084" width="21" height="21" fill="#8e9fc8"/>
<text class="it" x="1555" y="1101">Bacteroides eggerthii</text>
<rect x="1522" y="1139" width="21" height="21" fill="#54b8cd"/>
<text class="it" x="1555" y="1156">Bifidobacterium breve</text>
<rect x="1522" y="1194" width="21" height="21" fill="#f7d64e"/>
<text class="it" x="1555" y="1211">Clostridium neonatale</text>
<rect x="1522" y="1249" width="21" height="21" fill="#85574d"/>
<text class="it" x="1555" y="1266">Enterobacter himalayensis</text>
<rect x="1522" y="1304" width="21" height="21" fill="#b0d46a"/>
<text class="it" x="1555" y="1321">Enterocloster clostridioformis</text>
<rect x="1522" y="1358" width="21" height="21" fill="#d87fc1"/>
<text class="it" x="1555" y="1376">Escherichia coli</text>
<rect x="1522" y="1413" width="21" height="21" fill="#808080"/>
<text class="it" x="1555" y="1431">Enterococcus faecalis</text>
<rect x="1522" y="1468" width="21" height="21" fill="#8a6ab8"/>
<text class="it" x="1555" y="1486">Lactobacillus paracasei</text>
<rect x="1522" y="1523" width="21" height="21" fill="#e07a3c"/>
<text class="it" x="1555" y="1526">Lactobacillus rhamnosus</text>
<text x="1555" y="1563">strain 2</text>
<rect x="1522" y="1577" width="21" height="21" fill="#4b9b7c"/>
<text class="it" x="1555" y="1596">Streptococcus anginosus</text>
</g>
</svg>
